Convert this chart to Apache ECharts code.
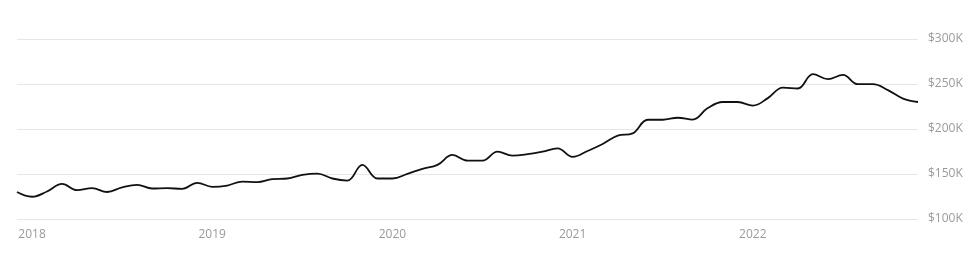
<!DOCTYPE html>
<html>
<head>
<meta charset="utf-8">
<script src="https://cdn.jsdelivr.net/npm/echarts@6/dist/echarts.min.js"></script>
<style>
html,body{margin:0;padding:0;background:#fff;}
#chart{width:975px;height:256px;}
</style>
</head>
<body>
<div id="chart"></div>
<script>
const months = [
"2017-12",
"2018-01","2018-02","2018-03","2018-04","2018-05","2018-06","2018-07","2018-08","2018-09","2018-10","2018-11","2018-12",
"2019-01","2019-02","2019-03","2019-04","2019-05","2019-06","2019-07","2019-08","2019-09","2019-10","2019-11","2019-12",
"2020-01","2020-02","2020-03","2020-04","2020-05","2020-06","2020-07","2020-08","2020-09","2020-10","2020-11","2020-12",
"2021-01","2021-02","2021-03","2021-04","2021-05","2021-06","2021-07","2021-08","2021-09","2021-10","2021-11","2021-12",
"2022-01","2022-02","2022-03","2022-04","2022-05","2022-06","2022-07","2022-08","2022-09","2022-10","2022-11","2022-12"
];
// median price, thousands of dollars
const priceK = [
130,
124.7,130.6,139,132,134.3,130,135.2,138,133.9,134.3,133.5,140.2,
135.8,137.2,141.6,141,144.3,145,149,150.5,145,142.7,160.1,145,
145,150.2,155.7,160.1,171.2,164.9,164.9,174.9,170.4,172,174.9,178.4,
169,175.6,183.4,192.6,195.2,210.3,210.3,212.5,210.5,223.3,230,230,
226,234.3,246,245,260.9,255.4,260.1,249.8,249.8,243.2,233.8,230
];
const yMin = 100000, yMax = 300000, yStep = 50000;

const chart = echarts.init(document.getElementById('chart'), null, {renderer:'canvas'});
chart.setOption({
  animation:false,
  grid:{left:17, right:57, top:39, bottom:37},
  xAxis:{
    type:'category',
    data:months,
    boundaryGap:false,
    axisLine:{show:false},
    axisTick:{show:false},
    splitLine:{show:false},
    axisLabel:{
      interval:function(i, v){ return v.slice(5) === '01'; },
      formatter:function(v){ return v.slice(0,4); },
      color:'#9a9a9a',
      fontFamily:'Open Sans',
      fontSize:12,
      margin:10
    }
  },
  yAxis:{
    type:'value',
    position:'right',
    min:yMin, max:yMax, interval:yStep,
    axisLine:{show:false},
    axisTick:{show:false},
    splitLine:{lineStyle:{color:'#e6e6e6', width:1}},
    axisLabel:{
      formatter:function(v){ return '$' + (v/1000) + 'K'; },
      color:'#9a9a9a',
      fontFamily:'Open Sans',
      fontSize:12,
      margin:10
    }
  },
  series:[{
    type:'line',
    data:priceK.map(v => v*1000),
    smooth:0.4,
    symbol:'none',
    lineStyle:{color:'#111', width:1.8}
  }]
});
</script>
</body>
</html>
